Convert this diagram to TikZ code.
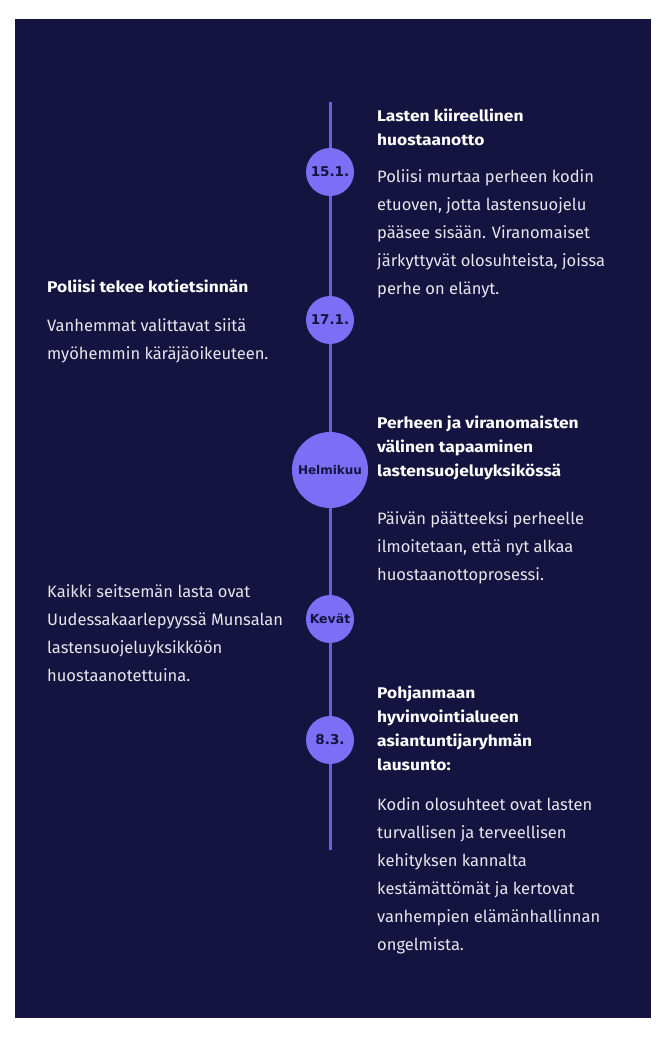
\documentclass[tikz,border=0pt]{standalone}
\usepackage{fontspec}
\setmainfont{Fira Sans}
\newfontfamily\ttlfont[FakeStretch=1.12]{Fira Sans}
\newfontfamily\dotfont{DejaVu Sans}
\definecolor{navy}{HTML}{15133F}
\definecolor{tline}{HTML}{6E5EE0}
\definecolor{dot}{HTML}{7D6EF5}
\definecolor{bodytxt}{HTML}{E6E6EE}
\tikzset{
  body/.style={anchor=base west, inner sep=0pt, text=bodytxt, font=\fontsize{16.5}{19}\selectfont},
  ttl/.style={anchor=base west, inner sep=0pt, text=white, font=\ttlfont\fontsize{15.5}{18}\selectfont\bfseries},
  dotnode/.style={circle, fill=dot, inner sep=0pt, minimum size=48pt, text=navy, font=\dotfont\fontsize{13.5}{15}\selectfont\bfseries},
  bigdot/.style={dotnode, minimum size=76pt, font=\dotfont\fontsize{12}{13}\selectfont\bfseries},
  tl/.style={draw=tline, line width=3pt}
}
\begin{document}
\begin{tikzpicture}[x=1pt,y=-1pt]
\useasboundingbox (0,0) rectangle (666,1037);
\fill[white] (0,0) rectangle (666,1037);
\fill[navy] (15,19) rectangle (651,1018);
% timeline
\coordinate (top) at (330,102);
\coordinate (bot) at (330,850);
\node[dotnode] (c1) at (330,172) {15.1.};
\node[dotnode] (c2) at (330,320) {17.1.};
\node[bigdot] (c3) at (330,470) {Helmikuu};
\node[dotnode, font=\dotfont\fontsize{12.5}{15}\selectfont\bfseries] (c4) at (330,619) {Kevät};
\node[dotnode] (c5) at (330,740) {8.3.};
\draw[tl] (top) -- (c1);
\draw[tl] (c1) -- (c2);
\draw[tl] (c2) -- (c3);
\draw[tl] (c3) -- (c4);
\draw[tl] (c4) -- (c5);
\draw[tl] (c5) -- (bot);
% block 1
\foreach \t [count=\i] in {Lasten kiireellinen, huostaanotto}
  \node[ttl] (t1\i) at (377,121+24*\i-24) {\t};
\foreach \t [count=\i] in {Poliisi murtaa perheen kodin, {etuoven, jotta lastensuojelu}, pääsee sisään. Viranomaiset, {järkyttyvät olosuhteista, joissa}, perhe on elänyt.}
  \node[body] (b1\i) at (377,182+28*\i-28) {\t};
% block 2
\node[ttl] (t21) at (47,292) {Poliisi tekee kotietsinnän};
\foreach \t [count=\i] in {Vanhemmat valittavat siitä, myöhemmin käräjäoikeuteen.}
  \node[body] (b2\i) at (47,331+28*\i-28) {\t};
% block 3
\foreach \t [count=\i] in {Perheen ja viranomaisten, välinen tapaaminen, lastensuojeluyksikössä}
  \node[ttl] (t3\i) at (377,428+24*\i-24) {\t};
\foreach \t [count=\i] in {Päivän päätteeksi perheelle, {ilmoitetaan, että nyt alkaa}, huostaanottoprosessi.}
  \node[body] (b3\i) at (377,524+28*\i-28) {\t};
% block 4
\foreach \t [count=\i] in {Kaikki seitsemän lasta ovat, Uudessakaarlepyyssä Munsalan, lastensuojeluyksikköön, huostaanotettuina.}
  \node[body] (b4\i) at (47,597+28*\i-28) {\t};
% block 5
\foreach \t [count=\i] in {Pohjanmaan, hyvinvointialueen, asiantuntijaryhmän, lausunto:}
  \node[ttl] (t5\i) at (377,698+24.3*\i-24.3) {\t};
\foreach \t [count=\i] in {Kodin olosuhteet ovat lasten, turvallisen ja terveellisen, kehityksen kannalta, kestämättömät ja kertovat, vanhempien elämänhallinnan, ongelmista.}
  \node[body] (b5\i) at (377,810+28*\i-28) {\t};
\end{tikzpicture}
\end{document}
